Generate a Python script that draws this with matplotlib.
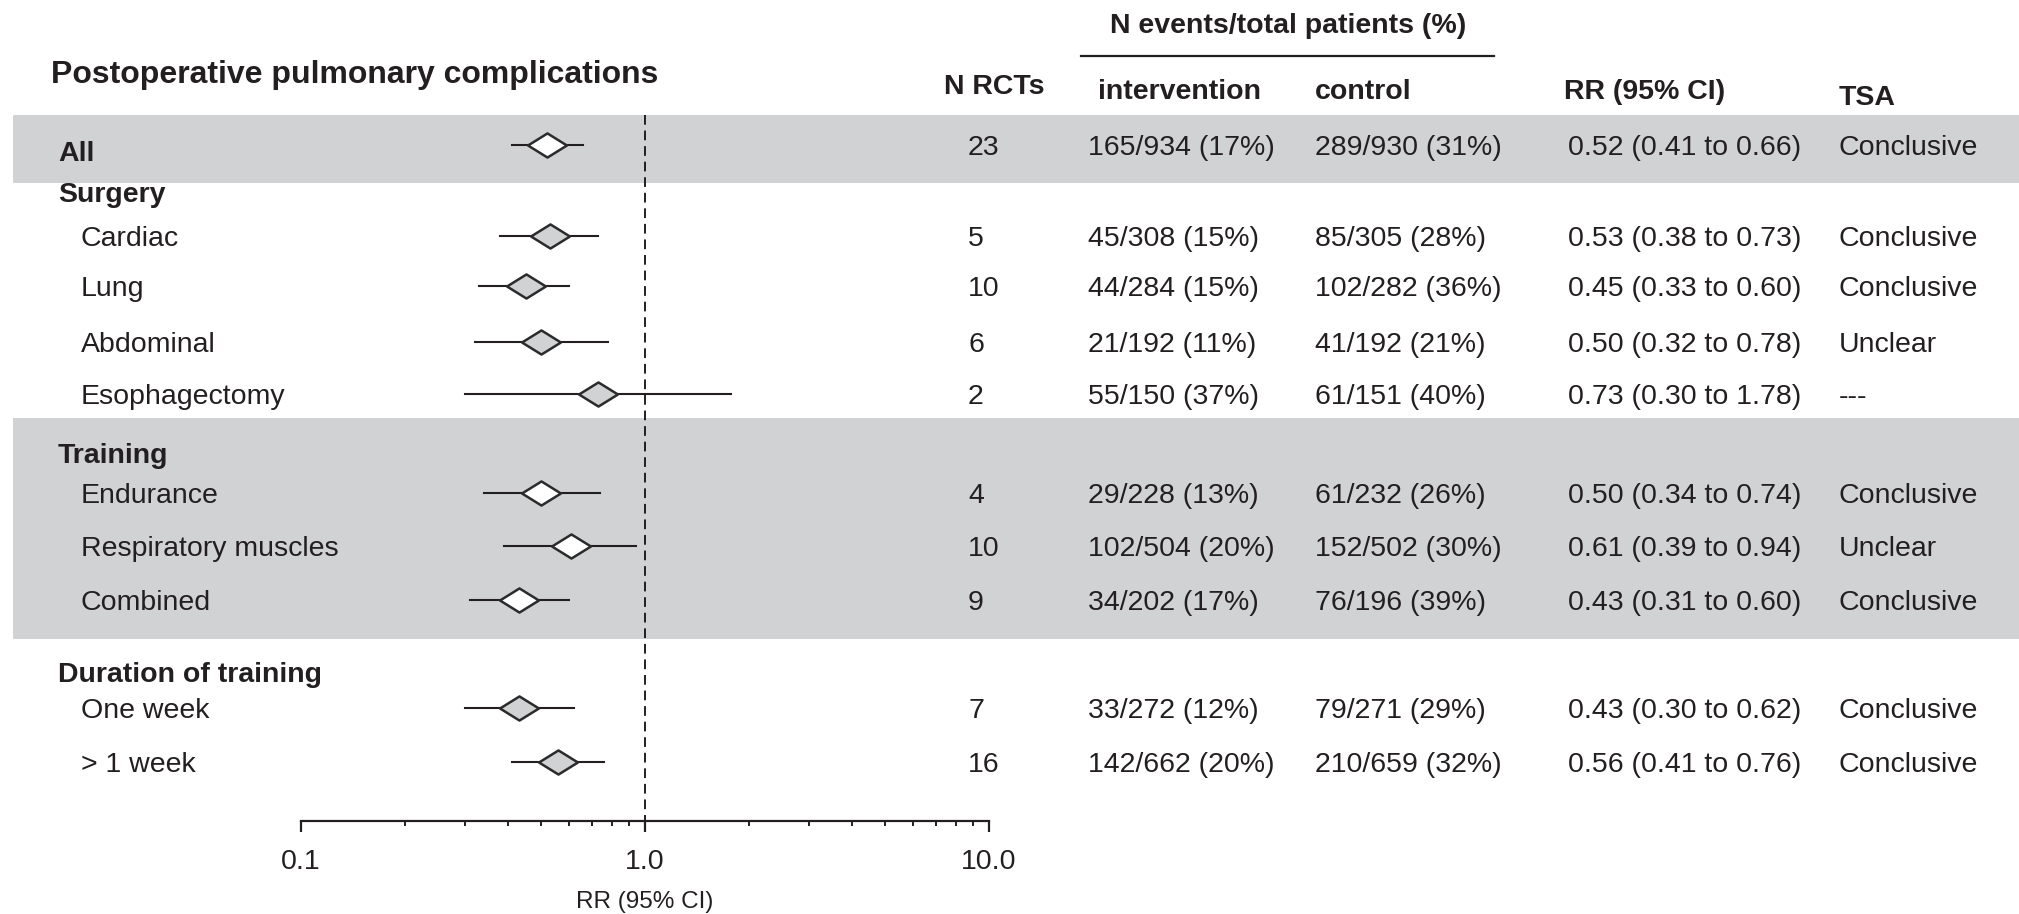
import numpy as np
import matplotlib.pyplot as plt
from matplotlib.path import Path

plt.rcParams["font.family"] = ["Liberation Sans", "DejaVu Sans"]

# rows of the forest plot
labels = ["All", "Surgery", "Cardiac", "Lung", "Abdominal", "Esophagectomy",
          "Training", "Endurance", "Respiratory muscles", "Combined",
          "Duration of training", "One week", "> 1 week"]
kinds = ["all", "group", "item", "item", "item", "item",
         "group", "item", "item", "item",
         "group", "item", "item"]
n_rcts = [23, None, 5, 10, 6, 2, None, 4, 10, 9, None, 7, 16]

int_events = [165, None, 45, 44, 21, 55, None, 29, 102, 34, None, 33, 142]
int_total = [934, None, 308, 284, 192, 150, None, 228, 504, 202, None, 272, 662]
int_pct = [17, None, 15, 15, 11, 37, None, 13, 20, 17, None, 12, 20]
ctl_events = [289, None, 85, 102, 41, 61, None, 61, 152, 76, None, 79, 210]
ctl_total = [930, None, 305, 282, 192, 151, None, 232, 502, 196, None, 271, 659]
ctl_pct = [31, None, 28, 36, 21, 40, None, 26, 30, 39, None, 29, 32]

rr = [0.52, None, 0.53, 0.45, 0.50, 0.73, None, 0.50, 0.61, 0.43, None, 0.43, 0.56]
rr_lo = [0.41, None, 0.38, 0.33, 0.32, 0.30, None, 0.34, 0.39, 0.31, None, 0.30, 0.41]
rr_hi = [0.66, None, 0.73, 0.60, 0.78, 1.78, None, 0.74, 0.94, 0.60, None, 0.62, 0.76]
tsa = ["Conclusive", None, "Conclusive", "Conclusive", "Unclear", "---", None,
       "Conclusive", "Unclear", "Conclusive", None, "Conclusive", "Conclusive"]
shaded = [True, False, False, False, False, False,
          True, True, True, True, False, False, False]

# layout in pixels (figure is 2019 x 914)
W, H = 2019, 914
row_y = [145, 192, 236, 286, 342, 394, 453, 493, 546, 600, 672, 708, 762]
bands = [(115, 183), (418, 639)]
ax_left, ax_right, ax_y = 301, 989, 821

ink = "#231f20"
band_col = "#d1d2d4"
fs = 20.5
base = 10  # baseline offset from row centre

fig = plt.figure(figsize=(W / 100, H / 100), dpi=100)
bg = fig.add_axes([0, 0, 1, 1])
bg.set_xlim(0, W)
bg.set_ylim(H, 0)
bg.axis("off")

for y0, y1 in bands:
    bg.fill_between([13, W], y0, y1, color=band_col, lw=0, zorder=0)

# headers
bg.text(51, 72 + 11, "Postoperative pulmonary complications", fontsize=23,
        fontweight="bold", color=ink, va="baseline")
bg.text(1288, 23 + 10, "N events/total patients (%)", fontsize=fs,
        fontweight="bold", color=ink, ha="center", va="baseline")
bg.plot([1081, 1494], [55.5, 55.5], color=ink, lw=1.6)
for x, y, txt in [(944, 84, "N RCTs"), (1098, 89, "intervention"),
                  (1315, 89, "control"), (1564, 89, "RR (95% CI)"),
                  (1839, 95, "TSA")]:
    bg.text(x, y + base, txt, fontsize=fs, fontweight="bold", color=ink,
            va="baseline")

# table columns
for i, lab in enumerate(labels):
    y = row_y[i] + base
    if kinds[i] == "item":
        bg.text(81, y, lab, fontsize=fs, color=ink, va="baseline")
    else:
        yl = y + (6 if kinds[i] == "all" else 0)
        bg.text(58, yl, lab, fontsize=fs, fontweight="bold", color=ink,
                va="baseline")
    if n_rcts[i] is None:
        continue
    bg.text(968, y, str(n_rcts[i]), fontsize=fs, color=ink, va="baseline")
    bg.text(1088, y, f"{int_events[i]}/{int_total[i]} ({int_pct[i]}%)",
            fontsize=fs, color=ink, va="baseline")
    bg.text(1315, y, f"{ctl_events[i]}/{ctl_total[i]} ({ctl_pct[i]}%)",
            fontsize=fs, color=ink, va="baseline")
    bg.text(1568, y, f"{rr[i]:.2f} ({rr_lo[i]:.2f} to {rr_hi[i]:.2f})",
            fontsize=fs, color=ink, va="baseline")
    bg.text(1839, y, tsa[i], fontsize=fs, color=ink, va="baseline")

# forest plot on a log axis
ax = fig.add_axes([ax_left / W, 0, (ax_right - ax_left) / W, 1])
ax.set_xscale("log")
ax.set_xlim(0.1, 10)
ax.set_ylim(H, 0)
ax.patch.set_visible(False)
for s in ["top", "left", "right"]:
    ax.spines[s].set_visible(False)
ax.spines["bottom"].set_position(("data", ax_y))
ax.spines["bottom"].set_linewidth(1.6)
ax.spines["bottom"].set_color(ink)
ax.set_yticks([])
ax.set_xticks([0.1, 1, 10])
ax.tick_params(axis="x", which="major", direction="out", length=8, width=1.6,
               color=ink, labelbottom=False)
ax.tick_params(axis="x", which="minor", direction="out", length=3.5, width=1.4,
               color=ink, labelbottom=False)

ax.plot([1, 1], [115, ax_y], color=ink, lw=1.4, ls=(0, (5, 3)), zorder=1)

diamond = Path([(-1, 0), (0, 0.62), (1, 0), (0, -0.62), (-1, 0)],
               [Path.MOVETO, Path.LINETO, Path.LINETO, Path.LINETO,
                Path.CLOSEPOLY])
for i in range(len(labels)):
    if rr[i] is None:
        continue
    y = row_y[i]
    ax.plot([rr_lo[i], rr_hi[i]], [y, y], color=ink, lw=1.5, zorder=2)
    face = "white" if shaded[i] else band_col
    ax.plot(rr[i], y, marker=diamond, markersize=28, markerfacecolor=face,
            markeredgecolor="#2b2b2b", markeredgewidth=1.8, zorder=3)

for v, lab in [(0.1, "0.1"), (1, "1.0"), (10, "10.0")]:
    ax.text(v, 859 + base, lab, fontsize=fs, color=ink, ha="center",
            va="baseline")
ax.text(1, 900 + 8, "RR (95% CI)", fontsize=17.5, color=ink, ha="center",
        va="baseline")

fig.savefig("out.png", dpi=100)
